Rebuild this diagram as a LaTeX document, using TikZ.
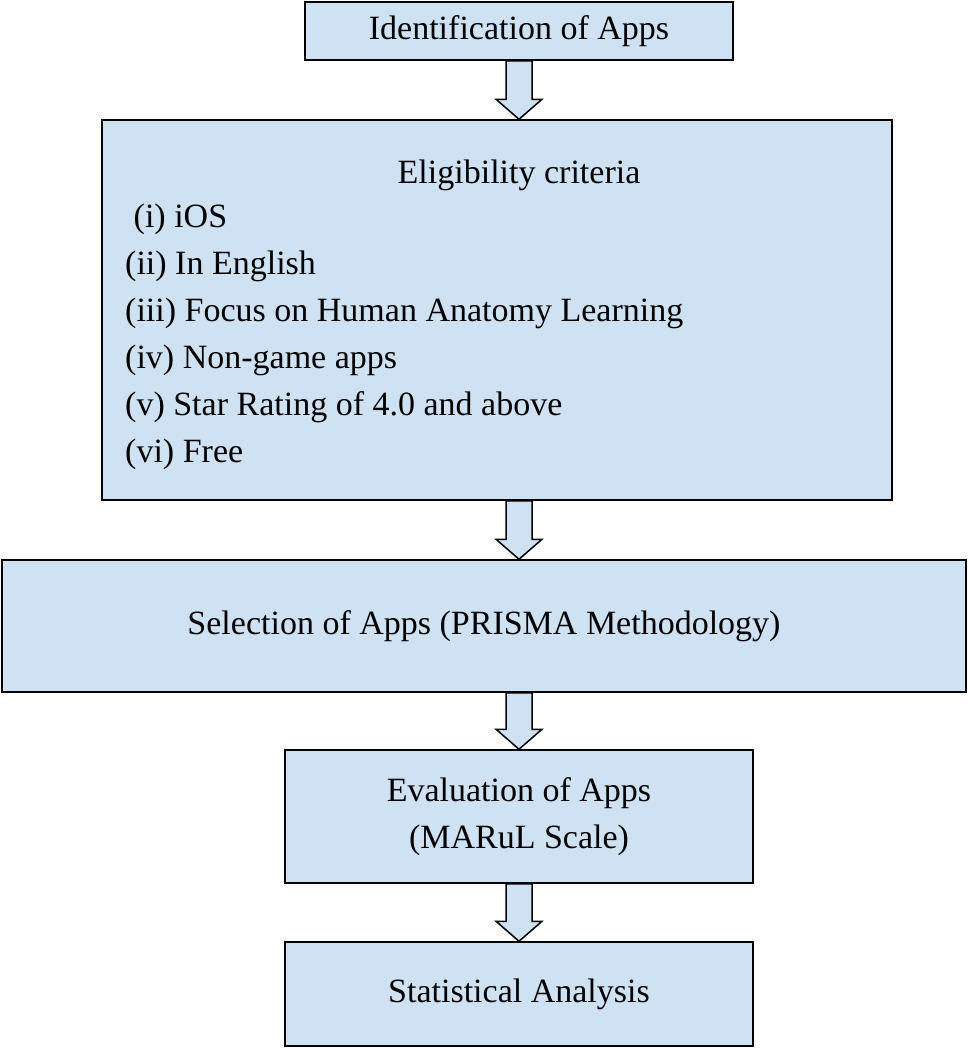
\documentclass[tikz,border=0pt]{standalone}
\usepackage{fontspec}
\setmainfont{Liberation Serif}
\usetikzlibrary{calc}
\definecolor{boxblue}{RGB}{207,226,243}
\newcommand{\flowarrow}[2]{%
  \draw[flowarr] ($(#1.south -| axis)+(-13pt,0)$) -- ($(#2.north -| axis)+(-13pt,20pt)$)
    -- ++(-10pt,0) -- (#2.north -| axis) -- ($(#2.north -| axis)+(23pt,20pt)$)
    -- ++(-10pt,0) -- ($(#1.south -| axis)+(13pt,0)$) -- cycle;}
\begin{document}
\begin{tikzpicture}[x=1pt,y=-1pt,
    stepbox/.style={draw, fill=boxblue, line width=1.5pt, inner sep=0pt, font=\fontsize{34}{47}\selectfont},
    flowarr/.style={draw, fill=boxblue, line width=1.5pt, line join=miter}]
  \useasboundingbox (0,0) rectangle (968,1050);
  \coordinate (axis) at (519,0);
  \node[stepbox, minimum width=428pt, minimum height=58pt] (ident) at (519,31) {Identification of Apps};
  \node[stepbox, minimum width=790pt, minimum height=380pt] (elig) at (497,310) {};
  \node[font=\fontsize{34}{47}\selectfont] (eligtitle) at (519,175) {Eligibility criteria};
  \node[font=\fontsize{34}{47}\selectfont, anchor=north west, align=left, inner sep=0pt] (eliglist) at (125,204)
    {\ (i) iOS\\(ii) In English\\(iii) Focus on Human Anatomy Learning\\(iv) Non-game apps\\(v) Star Rating of 4.0 and above\\(vi) Free};
  \node[stepbox, minimum width=964pt, minimum height=132pt] (select) at (484,626) {Selection of Apps (PRISMA Methodology)};
  \node[stepbox, minimum width=468pt, minimum height=133pt, align=center] (evalu) at (519,816.5) {Evaluation of Apps\\(MARuL Scale)};
  \node[stepbox, minimum width=468pt, minimum height=104pt] (stats) at (519,994) {Statistical Analysis};
  \flowarrow{ident}{elig}
  \flowarrow{elig}{select}
  \flowarrow{select}{evalu}
  \flowarrow{evalu}{stats}
\end{tikzpicture}
\end{document}
